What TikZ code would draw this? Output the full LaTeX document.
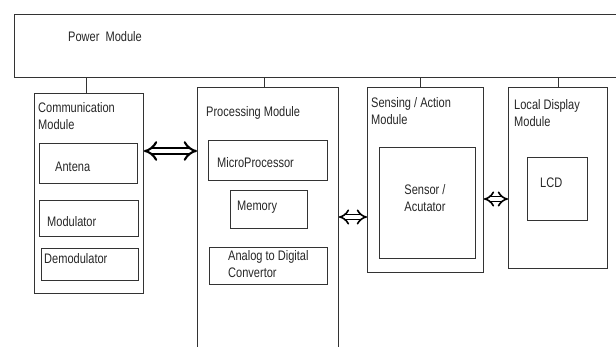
\documentclass[tikz,border=0pt]{standalone}
\usepackage{fontspec}
\setmainfont{Liberation Sans}[FakeStretch=0.8]
\usetikzlibrary{arrows.meta}

\begin{document}
\begin{tikzpicture}[x=1pt,y=-1pt,
  box/.style={draw=black!80, line width=0.9pt, anchor=north west, inner sep=0pt},
  txt/.style={anchor=west, inner sep=0pt, align=left, text=black!85, font=\fontsize{13.8}{17}\selectfont},
  link/.style={draw=black!80, line width=0.9pt},
  dblarrow/.style={draw=black, double, double distance=3.5pt, line width=1.6pt, {Implies}-{Implies}}]
  \useasboundingbox (0,0) rectangle (616,347);
  \clip (0,0) rectangle (616,347);
  % power supply across the top
  \node (power) at (14,14)  [box, minimum width=620, minimum height=63] {};
  \node (powertxt) at (68,37) [txt] {Power\ \ Module};
  % modules
  \node (comm)  at (34,93)  [box, minimum width=109, minimum height=200] {};
  \node (proc)  at (197,87) [box, minimum width=141, minimum height=280] {};
  \node (sense) at (367,87) [box, minimum width=116, minimum height=185] {};
  \node (local) at (508,87) [box, minimum width=99, minimum height=181] {};
  \node (commtxt)  at (38,116.5)  [txt] {Communication\\Module};
  \node (proctxt)  at (206,113)   [txt] {Processing Module};
  \node (sensetxt) at (371,111.5) [txt] {Sensing / Action\\Module};
  \node (localtxt) at (514,113.5) [txt] {Local Display\\Module};
  % parts inside the modules
  \node (antena) at (39,143)  [box, minimum width=98, minimum height=40] {};
  \node (modul)  at (39,200)  [box, minimum width=99, minimum height=36] {};
  \node (demod)  at (41,248)  [box, minimum width=97, minimum height=32] {};
  \node (micro)  at (208,140) [box, minimum width=119, minimum height=40] {};
  \node (memory) at (230,190) [box, minimum width=77, minimum height=38] {};
  \node (adc)    at (209,247) [box, minimum width=118, minimum height=37] {};
  \node (sensor) at (379,147) [box, minimum width=96, minimum height=111] {};
  \node (lcd)    at (527,157) [box, minimum width=60, minimum height=63] {};
  \node (antenatxt) at (55,167)    [txt] {Antena};
  \node (modultxt)  at (47,222)    [txt] {Modulator};
  \node (demodtxt)  at (44,259)    [txt] {Demodulator};
  \node (microtxt)  at (217,163)   [txt] {MicroProcessor};
  \node (memorytxt) at (237,207)   [txt] {Memory};
  \node (adctxt)    at (228,264)   [txt] {Analog to Digital\\Convertor};
  \node (sensortxt) at (425,198.5) [txt, anchor=center, align=center] {Sensor /\\Acutator};
  \node (lcdtxt)    at (540,183)   [txt] {LCD};
  % supply lines
  \draw[link] ([xshift=-3]comm.north)  -- ([xshift=-3]comm.north |- power.south);
  \draw[link] ([xshift=-4]proc.north)  -- ([xshift=-4]proc.north |- power.south);
  \draw[link] ([xshift=-5]sense.north) -- ([xshift=-5]sense.north |- power.south);
  \draw[link] (local.north) -- (local.north |- power.south);
  % data paths
  \coordinate (busa) at (0,151);
  \coordinate (busb) at (0,217);
  \coordinate (busc) at (0,199);
  \draw[dblarrow, double distance=4.5pt, line width=2.1pt] (comm.east |- busa) -- (proc.west |- busa);
  \draw[dblarrow] (proc.east |- busb) -- (sense.west |- busb);
  \draw[dblarrow] (sense.east |- busc) -- (local.west |- busc);
\end{tikzpicture}
\end{document}
